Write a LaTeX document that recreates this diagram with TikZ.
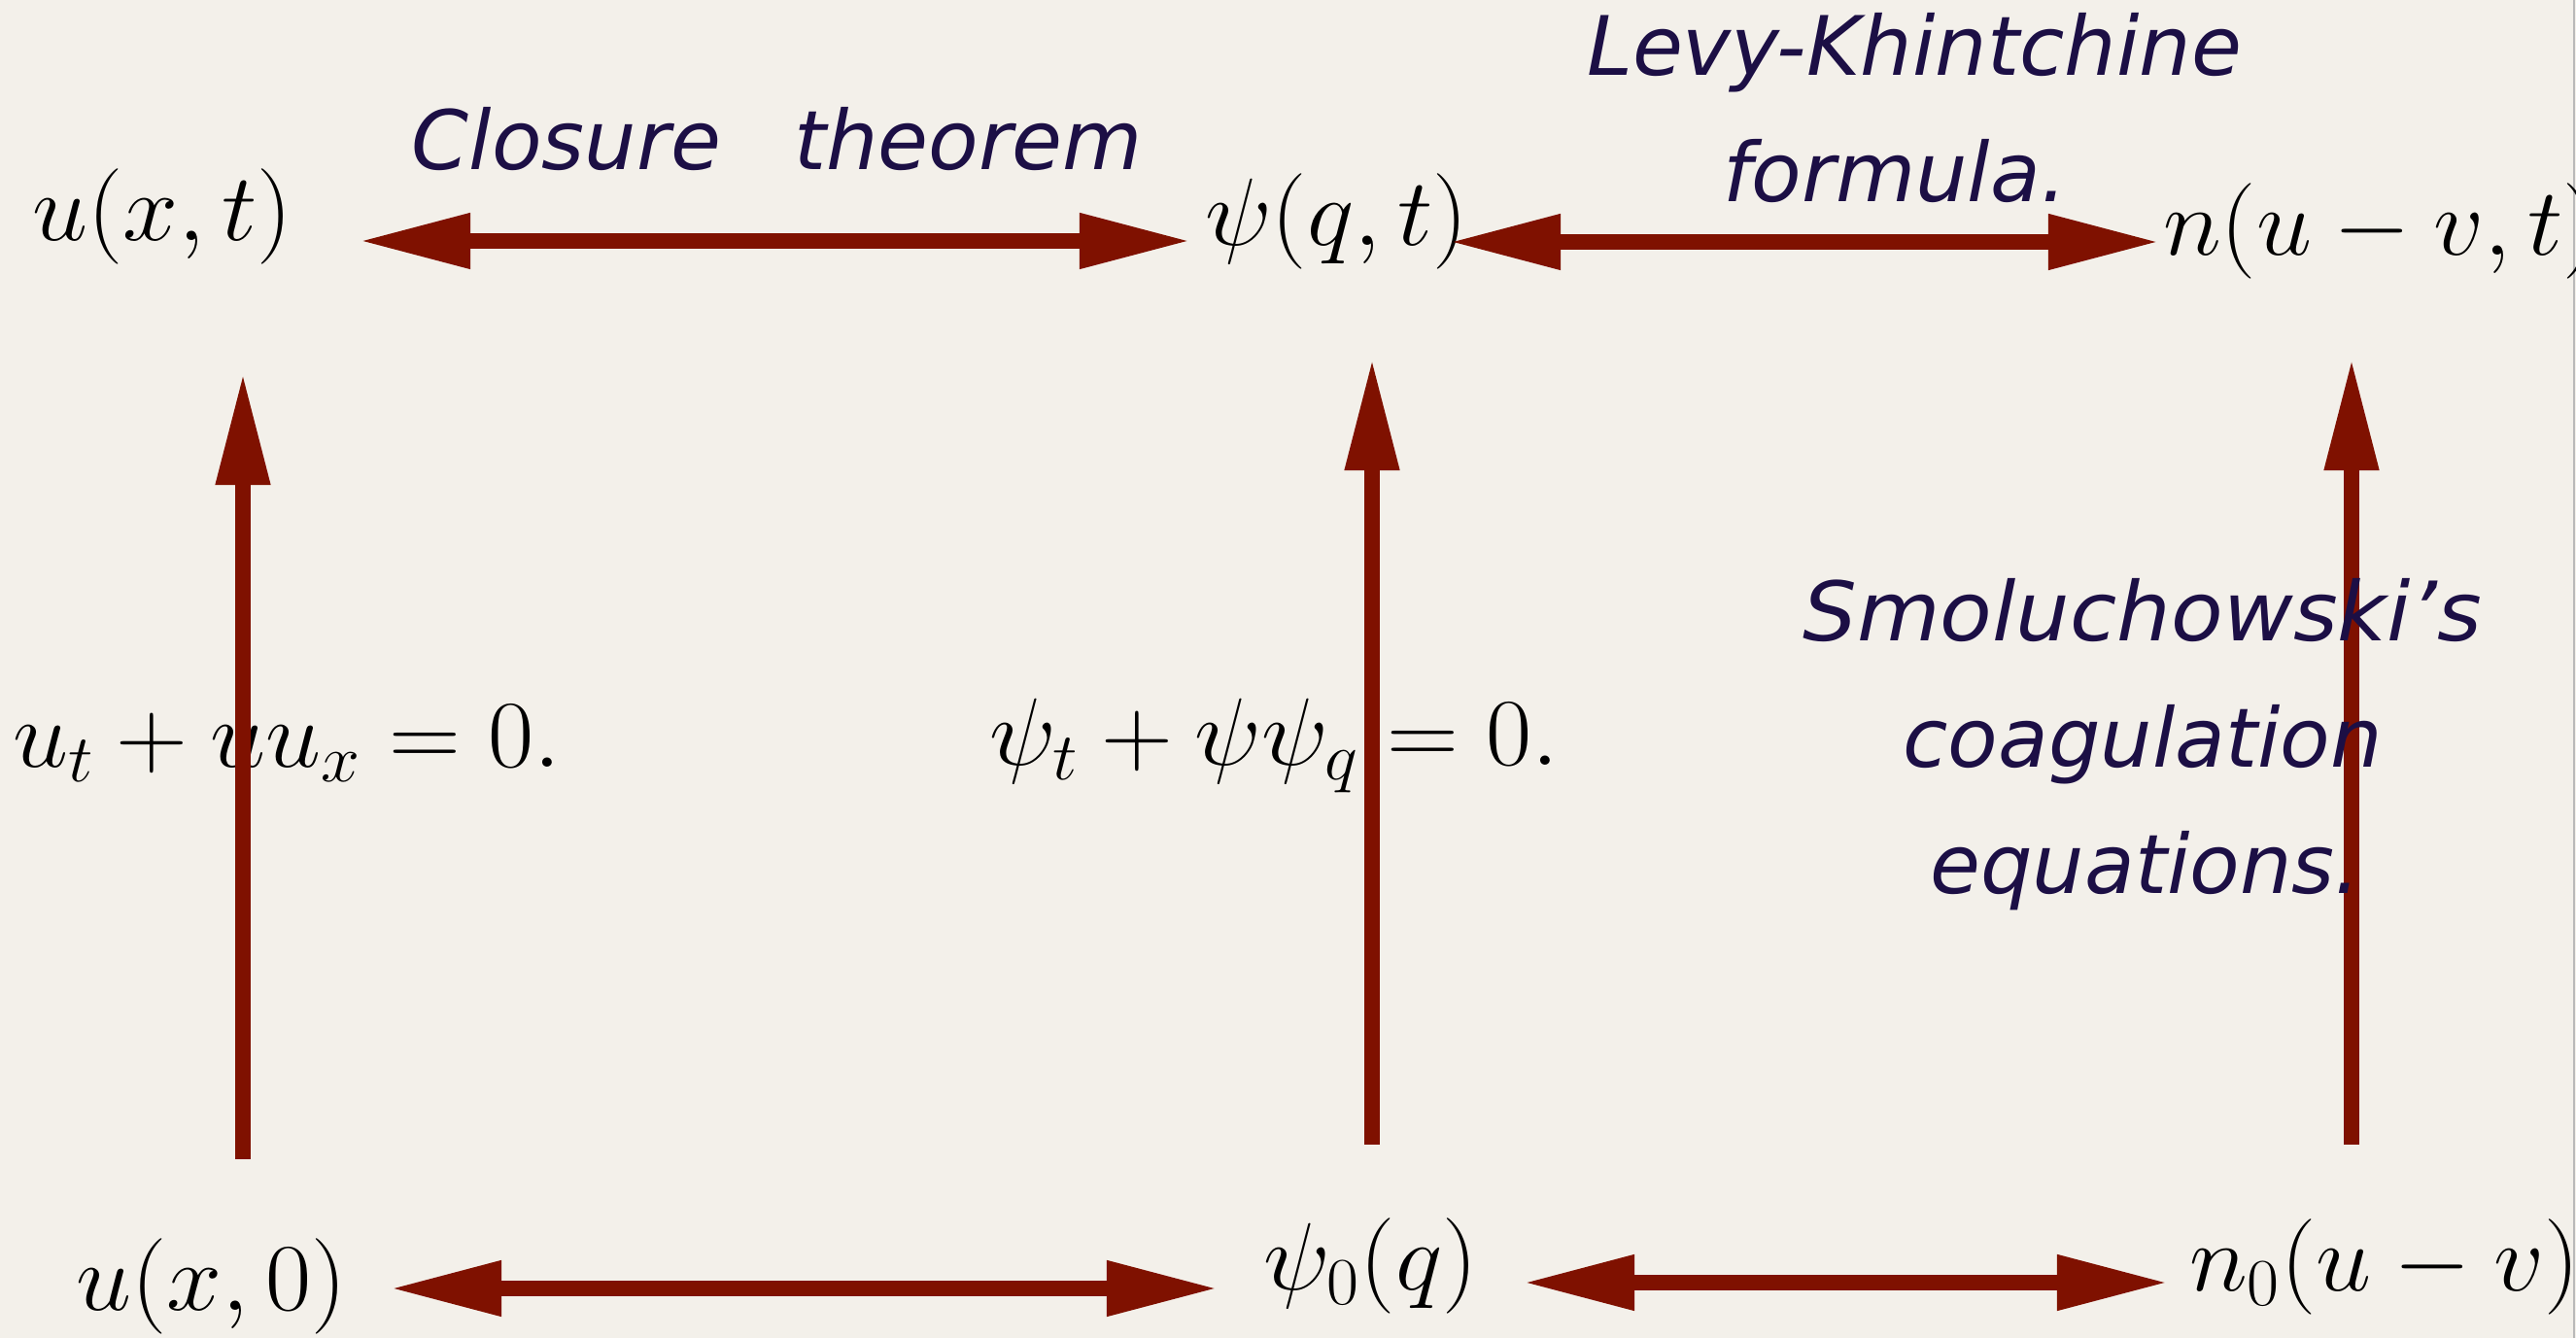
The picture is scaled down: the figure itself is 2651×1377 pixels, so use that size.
\RequirePackage{fix-cm}
\documentclass[tikz,border=0pt]{standalone}
\usepackage{fontspec}
\newfontfamily\hand{DejaVu Sans}
\usetikzlibrary{arrows.meta}
\definecolor{bg}{RGB}{243,240,234}
\definecolor{arrc}{RGB}{127,17,0}
\definecolor{inkc}{RGB}{28,15,69}
\tikzset{
  mathlbl/.style={inner sep=0pt, outer sep=0pt, anchor=base west, transform shape, xscale=1.04, font=\fontsize{28}{33}\selectfont},
  handlbl/.style={inner sep=0pt, outer sep=0pt, anchor=base, text=inkc, font=\hand\itshape\fontsize{24}{29}\selectfont},
  uparr/.style={draw=arrc, line width=4.8pt, -{Triangle[length=1.16cm, width=0.52cm]}},
  dblarr/.style={draw=arrc, line width=4.8pt, {Triangle[length=1.15cm, width=0.53cm]}-{Triangle[length=1.15cm, width=0.53cm]}}
}
\begin{document}
\begin{tikzpicture}[x=0.01cm, y=-0.01cm]
\useasboundingbox (0,0) rectangle (2651,1377);
\fill[bg] (0,0) rectangle (2651,1377);
\draw[gray!55, line width=0.6pt] (2649,0) -- (2649,1377);
% math labels
\node[mathlbl] (uxt) at (33,248) {$u(x,t)$};
\node[mathlbl] (psit) at (1240,253) {$\psi(q,t)$};
\node[mathlbl] (nt) at (2226,263) {$n(u-v,t)$};
\node[mathlbl] (ux0) at (78,1349) {$u(x,0)$};
\node[mathlbl] (psi0) at (1300,1328) {$\psi_0(q)$};
\node[mathlbl] (n0) at (2253,1329) {$n_0(u-v)$};
\node[mathlbl] (eq1) at (13,790) {$u_t+uu_x=0.$};
\node[mathlbl] (eq2) at (1018,788) {$\psi_t+\psi\psi_q=0.$};
% connector ends
\coordinate (h1a) at (369,248);  \coordinate (h1b) at (1226,248);
\coordinate (h2a) at (1491,249); \coordinate (h2b) at (2223,249);
\coordinate (h3a) at (401,1326); \coordinate (h3b) at (1254,1326);
\coordinate (h4a) at (1567,1320);\coordinate (h4b) at (2232,1320);
\coordinate (v1a) at (250,1193); \coordinate (v1b) at (250,383);
\coordinate (v2a) at (1412,1178);\coordinate (v2b) at (1412,368);
\coordinate (v3a) at (2420,1178);\coordinate (v3b) at (2420,368);
\draw[dblarr] (h1a) -- (h1b);
\draw[dblarr] (h2a) -- (h2b);
\draw[dblarr] (h3a) -- (h3b);
\draw[dblarr] (h4a) -- (h4b);
\draw[uparr] (v1a) -- (v1b);
\draw[uparr] (v2a) -- (v2b);
\draw[uparr] (v3a) -- (v3b);
% handwritten labels
\node[handlbl] (clos) at (800,175) {Closure\hspace{0.75cm}theorem};
\node[handlbl] (levy) at (1970,78) {Levy-Khintchine};
\node[handlbl] (form) at (1950,208) {formula.};
\node[handlbl, transform shape, xscale=1.04] (smol) at (2205,660) {Smoluchowski’s};
\node[handlbl] (coag) at (2205,790) {coagulation};
\node[handlbl] (equa) at (2208,920) {equations.};
\end{tikzpicture}
\end{document}
